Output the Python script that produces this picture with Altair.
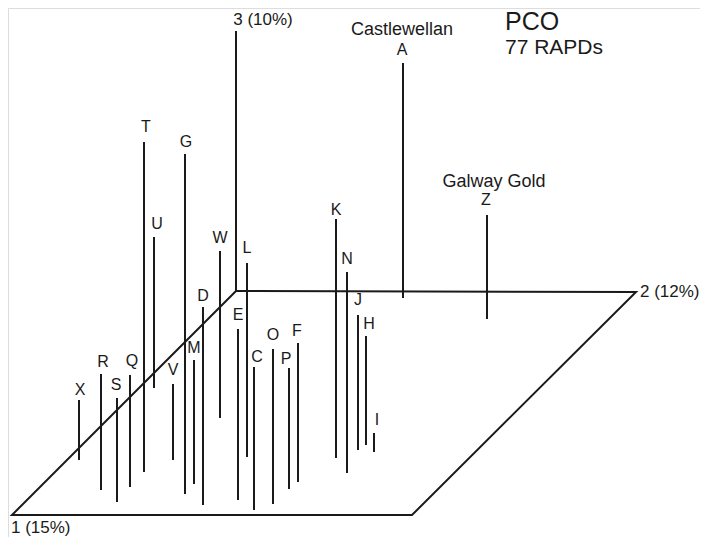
import altair as alt
import pandas as pd

# Samples: screen position of each stem (x), foot and top heights (y up from bottom)
names = ["X", "R", "S", "Q", "T", "U", "V", "G", "M", "D", "W", "E", "L", "C",
         "O", "P", "F", "K", "N", "J", "H", "I", "A", "Z"]
stem_x = [79, 101, 117, 130, 144, 154, 173, 185, 194, 203, 220, 238, 247, 254,
          273, 289, 298, 336, 347, 358, 366, 374, 403, 487]
stem_foot = [85, 55, 43, 58, 73, 157, 85, 51, 61, 40, 127, 45, 88, 35,
             41, 56, 63, 87, 72, 95, 100, 93, 247, 226]
stem_top = [145, 171, 147, 170, 403, 308, 161, 391, 185, 238, 294, 216, 282, 178,
            196, 177, 202, 326, 273, 230, 209, 112, 482, 330]
label_x = [80, 103, 116, 132, 146, 157, 173, 186, 194, 203, 220, 238, 247, 257,
           273, 286, 297, 336, 347, 358, 369, 377, 402, 486]
label_y = [155, 183, 160, 184, 418, 321, 175, 403, 197, 249, 307, 230, 297, 188,
           210, 186, 214, 335, 286, 245, 221, 125, 495, 345]

# Floor parallelogram (axes 1 and 2) and vertical axis 3
floor_x = [236, 636, 412, 12, 236]
floor_y = [254, 253, 30, 30, 254]
axis3_x = [236]
axis3_y0 = [254]
axis3_y1 = [514]

# Text annotations
center_text = ["3 (10%)", "Castlewellan", "Galway Gold"]
center_x = [263, 402, 494]
center_y = [525, 515, 363]
center_size = [17, 18, 18]
left_text = ["PCO", "77 RAPDs", "2 (12%)", "1 (15%)"]
left_x = [505, 505, 640, 11]
left_y = [523, 497, 253, 17]
left_size = [25, 21, 17, 17]

FONT = "Liberation Sans"
INK = "#1a1a1a"

stems = pd.DataFrame({"name": names, "x": stem_x, "y0": stem_foot, "y1": stem_top})
labels = pd.DataFrame({"name": names, "x": label_x, "y": label_y})
floor = pd.DataFrame({"x": floor_x, "y": floor_y, "o": list(range(len(floor_x)))})
axis3 = pd.DataFrame({"x": axis3_x, "y0": axis3_y0, "y1": axis3_y1})
ctext = pd.DataFrame({"t": center_text, "x": center_x, "y": center_y, "s": center_size})
ltext = pd.DataFrame({"t": left_text, "x": left_x, "y": left_y, "s": left_size})

xs = alt.Scale(domain=[8, 700], nice=False, zero=False)
ys = alt.Scale(domain=[8, 537], nice=False, zero=False)
X = lambda f: alt.X(f, type="quantitative", scale=xs, axis=None)
Y = lambda f: alt.Y(f, type="quantitative", scale=ys, axis=None)

floor_layer = alt.Chart(floor).mark_line(color=INK, strokeWidth=2).encode(
    x=X("x"), y=Y("y"), order="o:Q")
axis3_layer = alt.Chart(axis3).mark_rule(color=INK, strokeWidth=2).encode(
    x=X("x"), y=Y("y0"), y2="y1:Q")
stem_layer = alt.Chart(stems).mark_rule(color=INK, strokeWidth=2).encode(
    x=X("x"), y=Y("y0"), y2="y1:Q")
label_layer = alt.Chart(labels).mark_text(
    font=FONT, fontSize=16, color=INK, align="center", baseline="middle").encode(
    x=X("x"), y=Y("y"), text="name:N")
ctext_layer = alt.Chart(ctext).mark_text(
    font=FONT, color=INK, align="center", baseline="middle").encode(
    x=X("x"), y=Y("y"), text="t:N", size=alt.Size("s:Q", scale=None, legend=None))
ltext_layer = alt.Chart(ltext).mark_text(
    font=FONT, color=INK, align="left", baseline="middle").encode(
    x=X("x"), y=Y("y"), text="t:N", size=alt.Size("s:Q", scale=None, legend=None))

chart = alt.layer(
    floor_layer, axis3_layer, stem_layer, label_layer, ctext_layer, ltext_layer
).properties(
    width=692, height=529, padding=0, autosize=alt.AutoSizeParams(type="none")
).configure_view(strokeWidth=0).configure(background="white")

chart.save("out.html", embed_options={"renderer": "svg", "actions": False})
